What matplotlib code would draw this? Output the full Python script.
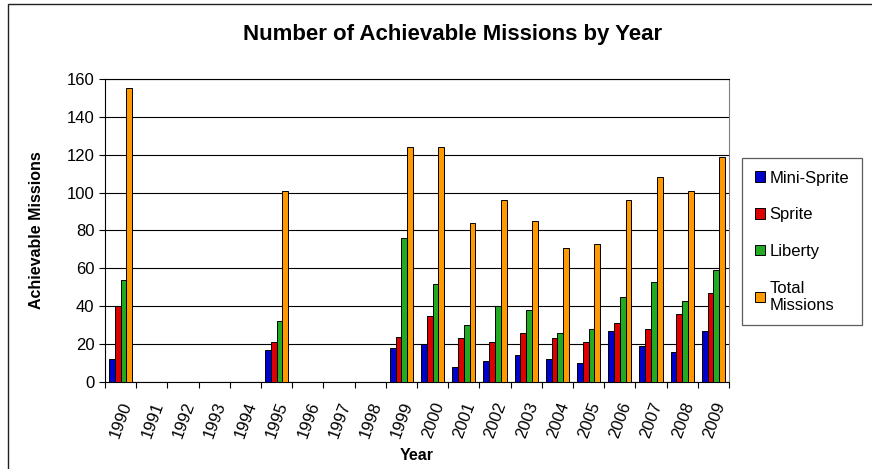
import matplotlib
matplotlib.use("Agg")
import matplotlib.pyplot as plt
from matplotlib.patches import Rectangle
import numpy as np

plt.rcParams['font.family'] = ['Liberation Sans', 'DejaVu Sans']

years = [str(y) for y in range(1990, 2010)]
series_names = ["Mini-Sprite", "Sprite", "Liberty", "Total\nMissions"]
mini_sprite = [12, 0, 0, 0, 0, 17, 0, 0, 0, 18, 20, 8, 11, 14, 12, 10, 27, 19, 16, 27]
sprite      = [40, 0, 0, 0, 0, 21, 0, 0, 0, 24, 35, 23, 21, 26, 23, 21, 31, 28, 36, 47]
liberty     = [54, 0, 0, 0, 0, 32, 0, 0, 0, 76, 52, 30, 40, 38, 26, 28, 45, 53, 43, 59]
total       = [155, 0, 0, 0, 0, 101, 0, 0, 0, 124, 124, 84, 96, 85, 71, 73, 96, 108, 101, 119]
colors = ["#0000CC", "#DD0000", "#22AA22", "#FF9900"]

W, H = 872, 469
fig = plt.figure(figsize=(W / 100, H / 100), dpi=100)

# chart-area border (runs off the right and bottom edges)
fig.patches.append(Rectangle((8 / W, -0.02), 1.0, 1 - 3.5 / H + 0.02,
                             transform=fig.transFigure, fill=False,
                             edgecolor="#222222", linewidth=1.0))

ax = fig.add_axes([105 / W, 1 - 382 / H, 624 / W, 303 / H])

x = np.arange(len(years))
bw = 0.187
data = [mini_sprite, sprite, liberty, total]
handles = []
for i, (vals, c, name) in enumerate(zip(data, colors, series_names)):
    h = ax.bar(x + (i - 1.5) * bw, vals, width=bw, color=c, edgecolor="black",
               linewidth=0.7, label=name, zorder=3)
    handles.append(h)

ax.set_xlim(-0.5, len(years) - 0.5)
ax.set_ylim(0, 160)
ax.set_yticks(range(0, 161, 20))
ax.tick_params(axis='y', labelsize=12, length=4.5, direction='out', pad=3)
ax.grid(axis='y', color='black', linewidth=0.8, zorder=0)

# category boundaries carry the tick marks; labels sit at category centres
ax.set_xticks(np.arange(-0.5, len(years), 1.0))
ax.set_xticklabels([])
ax.set_xticks(x, minor=True)
ax.set_xticklabels(years, minor=True, rotation=70, ha='right',
                   rotation_mode='anchor', fontsize=12)
ax.tick_params(axis='x', which='major', length=4.5, direction='out')
ax.tick_params(axis='x', which='minor', length=0, pad=13)

ax.spines['right'].set_color('#808080')
for side in ['top', 'left', 'bottom']:
    ax.spines[side].set_color('black')

ax.set_ylabel("Achievable Missions", fontsize=11.5, fontweight='bold')
ax.yaxis.set_label_coords((44 - 105) / 624, 0.5)
ax.set_xlabel("Year", fontsize=11.5, fontweight='bold')
ax.xaxis.set_label_coords((417 - 105) / 624, -(448 - 382) / 303)

fig.text(453 / W, 1 - 34.5 / H, "Number of Achievable Missions by Year",
         ha='center', va='center', fontsize=16, fontweight='bold')

leg = fig.legend(handles=handles, labels=series_names, loc='upper left',
                 bbox_to_anchor=(742 / W, 1 - 158 / H), fontsize=12,
                 frameon=True, fancybox=False, edgecolor='#333333',
                 handlelength=0.6, handleheight=0.6, handletextpad=0.3,
                 labelspacing=1.3, borderpad=0.75, borderaxespad=0)
leg.get_frame().set_linewidth(0.9)

fig.savefig("out.png", dpi=100)
